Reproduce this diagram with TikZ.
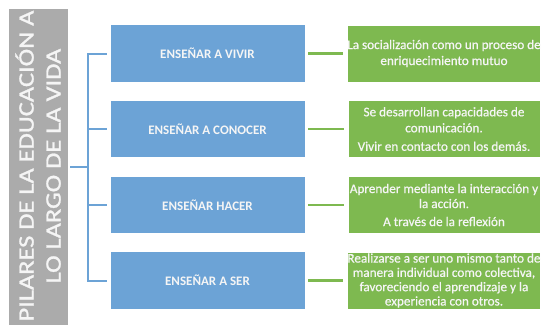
\documentclass[tikz,border=0pt]{standalone}
\usepackage{fontspec}
\setmainfont{Carlito}
\newfontfamily\titlefont[FakeStretch=1.2,FakeBold=1.2]{Carlito}
\newfontfamily\greenfont[FakeBold=0.6]{Carlito}
\definecolor{boxblue}{RGB}{108,163,214}
\definecolor{boxgreen}{RGB}{126,185,80}
\definecolor{titlegray}{RGB}{171,171,171}
\definecolor{textwhite}{RGB}{245,245,245}
\tikzset{
  bluebox/.style={fill=boxblue, draw=white, line width=0.8pt, minimum width=195pt, minimum height=57.5pt, inner sep=0pt,
    text=textwhite, font=\fontsize{13}{15}\selectfont\bfseries},
  greenbox/.style={fill=boxgreen, draw=white, line width=0.8pt, minimum width=192pt, minimum height=57pt, inner sep=0pt,
    text=textwhite, align=center},
  blueline/.style={draw=boxblue, line width=2pt},
  greenline/.style={draw=boxgreen, line width=2.2pt, shorten <=3pt, shorten >=4pt},
}
\begin{document}
\begin{tikzpicture}[x=1pt,y=-1pt]
\useasboundingbox (0,0) rectangle (541,325);
\clip (0,0) rectangle (541,325);
% title
\node[fill=titlegray, minimum width=59pt, minimum height=316pt, inner sep=0pt] (title) at (38.5,167) {};
\node[rotate=90, align=center, text=textwhite, inner sep=0pt,
      font=\titlefont\fontsize{22}{27}\selectfont] (titletext) at (38,166)
  {PILARES DE LA EDUCACIÓN A\\LO LARGO DE LA VIDA};
% blue boxes
\node[bluebox] (b1) at (207.5,53.5) {ENSEÑAR A VIVIR};
\node[bluebox] (b2) at (207.5,129) {ENSEÑAR A CONOCER};
\node[bluebox] (b3) at (207.5,205) {ENSEÑAR HACER};
\node[bluebox] (b4) at (207.5,280.5) {ENSEÑAR A SER};
% green boxes
\node[greenbox, font=\greenfont\fontsize{13.2}{16}\selectfont] (g1) at (444,53.5)
  {La socialización como un proceso de\\enriquecimiento mutuo};
\node[greenbox, font=\greenfont\fontsize{13.2}{16}\selectfont] (g2) at (444,129)
  {Se desarrollan capacidades de\\comunicación.\\[2.5pt]Vivir en contacto con los demás.};
\node[greenbox, font=\greenfont\fontsize{13.2}{15}\selectfont] (g3) at (444,205)
  {Aprender mediante la interacción y\\la acción.\\[3pt]A través de la reflexión};
\node[greenbox, font=\greenfont\fontsize{13.2}{14.3}\selectfont] (g4) at (444,280.5)
  {Realizarse a ser uno mismo tanto de\\manera individual como colectiva,\\favoreciendo el aprendizaje y la\\experiencia con otros.};
% tree connectors
\coordinate (trunk) at (88,167);
\draw[blueline, shorten <=2pt] (title.east) -- (trunk);
\draw[blueline, shorten >=3pt] (trunk) |- (b1.west);
\draw[blueline, shorten >=3pt] (trunk) |- (b2.west);
\draw[blueline, shorten >=3pt] (trunk) |- (b3.west);
\draw[blueline, shorten >=3pt] (trunk) |- (b4.west);
% green connectors
\draw[greenline] (b1.east) -- (g1.west);
\draw[greenline] (b2.east) -- (g2.west);
\draw[greenline] (b3.east) -- (g3.west);
\draw[greenline] (b4.east) -- (g4.west);
\end{tikzpicture}
\end{document}
